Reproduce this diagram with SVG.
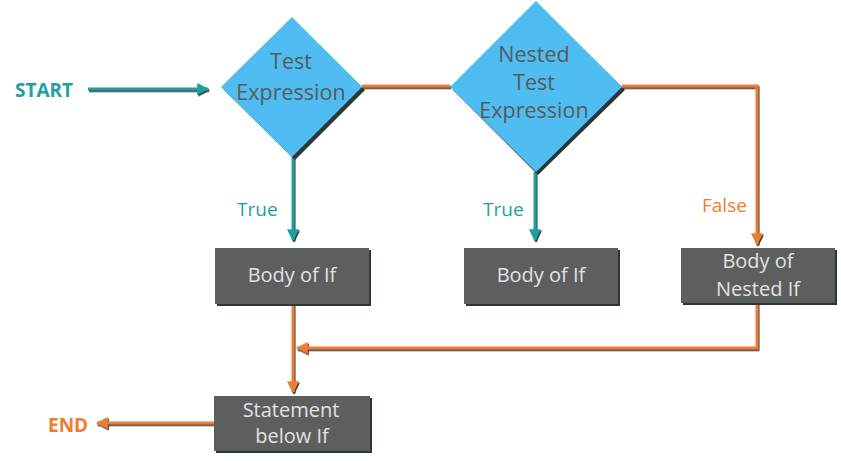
<svg xmlns="http://www.w3.org/2000/svg" width="841" height="461" viewBox="0 0 841 461">
  <defs>
    <style>
      .lbl { font-family: "Open Sans", "Noto Sans", "DejaVu Sans", sans-serif; }
      .dtext { fill: #5a5a5a; font-size: 21.5px; text-anchor: middle; }
      .btext { fill: #e2e2e2; font-size: 20px; text-anchor: middle; }
      .diamond { fill: #4fbdf2; }
      .box { fill: #5d5f5e; }
      .shadow { fill: #2b3636; }
      .teal { stroke: #1fa0a0; stroke-width: 3; fill: none; }
      .orange { stroke: #ed7d31; stroke-width: 3; fill: none; }
    </style>
    <filter id="lineShadow" x="-10%" y="-10%" width="120%" height="120%">
      <feDropShadow dx="1" dy="1.5" stdDeviation="0" flood-color="#2b3636"/>
    </filter>
    <marker id="arrTeal" viewBox="0 0 10 10" refX="9" refY="5" markerWidth="4" markerHeight="4" orient="auto" markerUnits="strokeWidth">
      <path d="M0,0 L10,5 L0,10 Z" fill="#1fa0a0"/>
    </marker>
    <marker id="arrOrange" viewBox="0 0 10 10" refX="9" refY="5" markerWidth="4" markerHeight="4" orient="auto" markerUnits="strokeWidth">
      <path d="M0,0 L10,5 L0,10 Z" fill="#ed7d31"/>
    </marker>
  </defs>

  <!-- connectors -->
  <g id="connectors" filter="url(#lineShadow)">
    <line class="teal" x1="88" y1="89" x2="208" y2="89" marker-end="url(#arrTeal)"/>
    <line class="orange" x1="362" y1="86" x2="450" y2="86"/>
    <polyline class="orange" points="622,86 757,86 757,244" marker-end="url(#arrOrange)"/>
    <line class="teal" x1="293" y1="157" x2="293" y2="240" marker-end="url(#arrTeal)"/>
    <line class="teal" x1="535" y1="172" x2="535" y2="240" marker-end="url(#arrTeal)"/>
    <line class="orange" x1="293" y1="304" x2="293" y2="392" marker-end="url(#arrOrange)"/>
    <polyline class="orange" points="757,303 757,348 297,348" marker-end="url(#arrOrange)"/>
    <line class="orange" x1="214" y1="423" x2="97" y2="423" marker-end="url(#arrOrange)"/>
  </g>

  <!-- terminal labels -->
  <g id="start">
    <text class="lbl" x="15" y="97" font-size="19" font-weight="bold" fill="#1fa0a0">START</text>
  </g>
  <g id="end">
    <text class="lbl" x="48" y="432" font-size="19" font-weight="bold" fill="#ed7d31">END</text>
  </g>

  <!-- branch labels -->
  <text class="lbl" x="237" y="216" font-size="19" fill="#1fa0a0">True</text>
  <text class="lbl" x="483" y="216" font-size="19" fill="#1fa0a0">True</text>
  <text class="lbl" x="702" y="212" font-size="19" fill="#ed7d31">False</text>

  <!-- decision: test expression -->
  <g id="test-expression">
    <polygon class="shadow" points="294,20 365,90 295,160 224,90"/>
    <polygon class="diamond" points="292,17 362,87 292,157 221,87"/>
    <text class="lbl dtext" x="291" y="69">Test</text>
    <text class="lbl dtext" x="291" y="100">Expression</text>
  </g>

  <!-- decision: nested test expression -->
  <g id="nested-test-expression">
    <polygon class="shadow" points="538,4 625,90 538,175 453,90"/>
    <polygon class="diamond" points="536,1 622,87 536,172 450,87"/>
    <text class="lbl dtext" x="534" y="62">Nested</text>
    <text class="lbl dtext" x="534" y="90">Test</text>
    <text class="lbl dtext" x="534" y="118">Expression</text>
  </g>

  <!-- process boxes -->
  <g id="body-of-if">
    <rect class="shadow" x="217" y="250" width="154" height="56"/>
    <rect class="box" x="215" y="248" width="154" height="56"/>
    <text class="lbl btext" x="292" y="282">Body of If</text>
  </g>
  <g id="body-of-if-nested-true">
    <rect class="shadow" x="466" y="250" width="154" height="56"/>
    <rect class="box" x="464" y="248" width="154" height="56"/>
    <text class="lbl btext" x="541" y="282">Body of If</text>
  </g>
  <g id="body-of-nested-if">
    <rect class="shadow" x="683" y="250" width="154" height="55"/>
    <rect class="box" x="681" y="248" width="154" height="55"/>
    <text class="lbl btext" x="758" y="268">Body of</text>
    <text class="lbl btext" x="758" y="296">Nested If</text>
  </g>
  <g id="statement-below-if">
    <rect class="shadow" x="216" y="398" width="156" height="55"/>
    <rect class="box" x="214" y="396" width="156" height="55"/>
    <text class="lbl btext" x="291" y="417">Statement</text>
    <text class="lbl btext" x="292" y="443">below If</text>
  </g>
</svg>
